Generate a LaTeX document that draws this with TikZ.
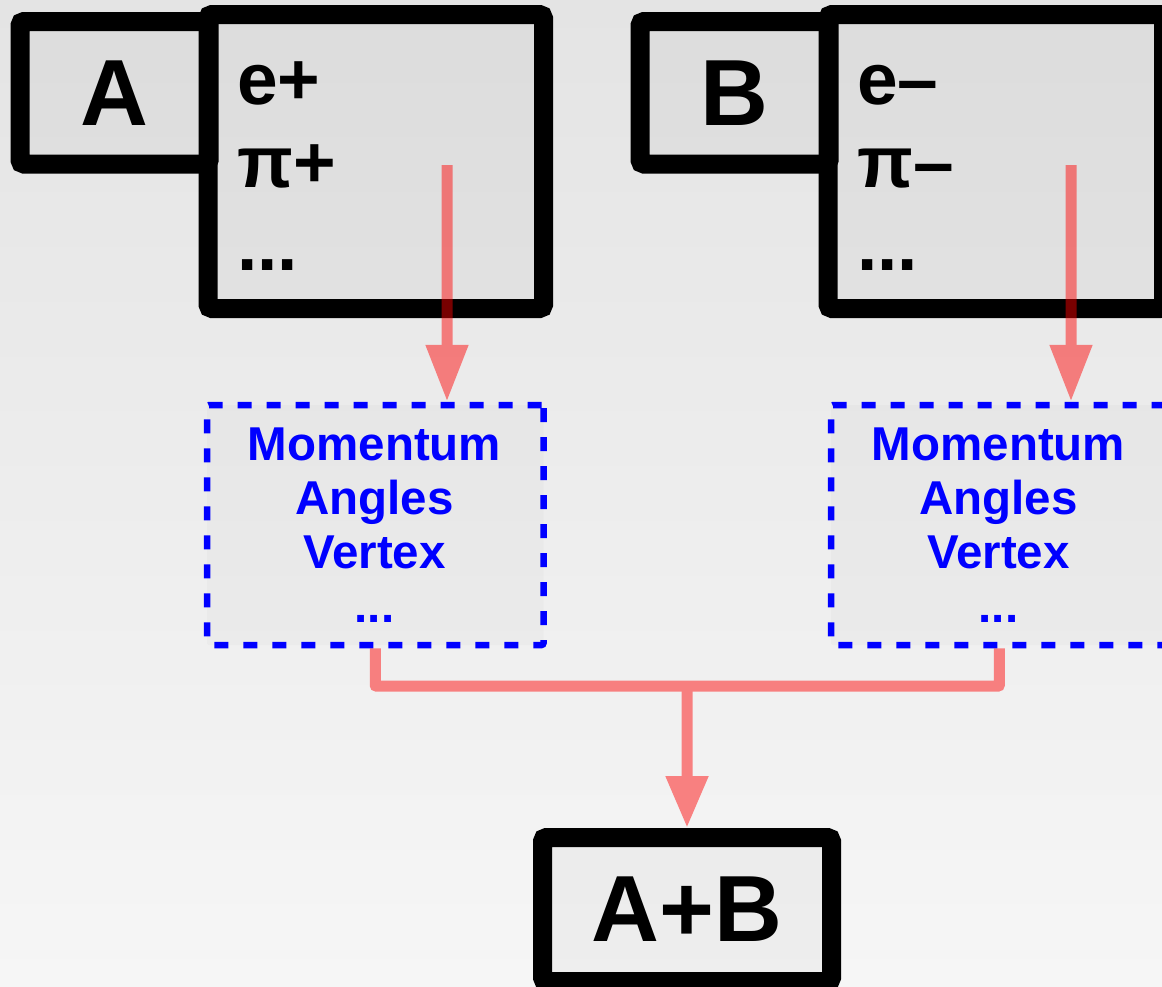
\documentclass[tikz,border=0pt]{standalone}
\usepackage{fontspec}
\setmainfont{Liberation Sans}
\usetikzlibrary{arrows.meta}
\definecolor{bgtop}{RGB}{228,228,228}
\definecolor{bgbot}{RGB}{246,246,246}
\begin{document}
\begin{tikzpicture}[x=1pt,y=-1pt,
  blackbox/.style={draw=black, line width=19pt, fill=black, fill opacity=0.03, text opacity=1,
    rounded corners=4pt, inner sep=0pt, font=\fontsize{94}{100}\selectfont\bfseries},
  bluebox/.style={draw=blue, line width=6.5pt, dash pattern=on 14pt off 15pt, fill=black,
    fill opacity=0.02, rounded corners=2pt, inner sep=0pt, minimum width=336.5pt, minimum height=240pt},
  listtext/.style={inner sep=0pt, anchor=base west, font=\fontsize{73}{83}\selectfont\bfseries},
  bluetext/.style={inner sep=0pt, anchor=base, text=blue, font=\fontsize{47.5}{54}\selectfont\bfseries},
  redline/.style={draw=red, line width=11pt, line join=round}
]
\useasboundingbox (0,0) rectangle (1162,986);
\clip (0,0) rectangle (1162,986);
\shade[top color=bgtop, bottom color=bgbot] (0,0) rectangle (1162,986);

% black boxes
\node[blackbox, minimum width=189pt, minimum height=142.5pt] (A) at (114.5,92.75) {A};
\node[blackbox, minimum width=335.5pt, minimum height=294pt] (Ap) at (375.75,161.5) {};
\node[blackbox, minimum width=189pt, minimum height=142.5pt] (B) at (734.5,92.75) {B};
\node[blackbox, minimum width=335.5pt, minimum height=294pt] (Bp) at (995.75,161.5) {};
\node[blackbox, minimum width=289pt, minimum height=144pt] (AB) at (687,909.5) {A+B};

% particle lists
\node[listtext] (a1t) at (237,104) {e+};
\node[listtext] (a2t) at (237,187) {π+};
\node[listtext] (a3t) at (237,270) {...};
\node[listtext] (b1t) at (857,104) {e–};
\node[listtext] (b2t) at (857,187) {π–};
\node[listtext] (b3t) at (857,270) {...};

% blue dashed boxes
\node[bluebox] (Ak) at (375.25,525) {};
\node[bluebox] (Bk) at (999.25,525) {};
\node[bluetext] (ka1) at (374.5,460) {Momentum};
\node[bluetext] (ka2) at (374.5,514) {Angles};
\node[bluetext] (ka3) at (374.5,568) {Vertex};
\node[bluetext] (ka4) at (374.5,622) {...};
\node[bluetext] (kb1) at (998.5,460) {Momentum};
\node[bluetext] (kb2) at (998.5,514) {Angles};
\node[bluetext] (kb3) at (998.5,568) {Vertex};
\node[bluetext] (kb4) at (998.5,622) {...};

% red connectors
\coordinate (sa) at (447,165);
\coordinate (sb) at (1071,165);
\coordinate (j) at (687,686);
\begin{scope}[transparency group, opacity=0.47]
\draw[redline, -{Triangle[width=40pt,length=57pt]}] (sa) -- (sa |- Ak.north);
\draw[redline, -{Triangle[width=40pt,length=57pt]}] (sb) -- (sb |- Bk.north);
\draw[redline] (Ak.south) |- (j) -| (Bk.south);
\draw[redline, -{Triangle[width=40pt,length=52pt]}] (j) -- (AB.north);
\end{scope}
\end{tikzpicture}
\end{document}
